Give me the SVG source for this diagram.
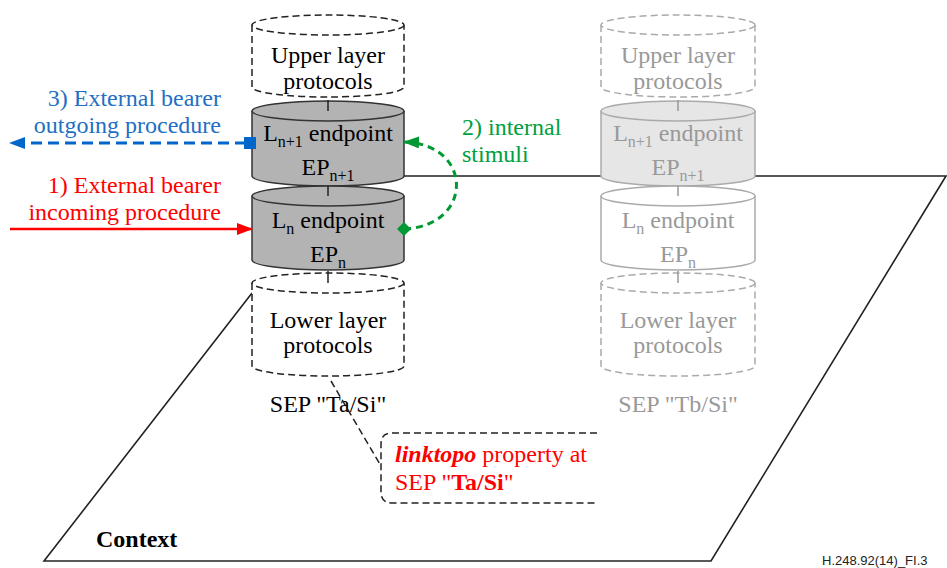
<svg xmlns="http://www.w3.org/2000/svg" width="947" height="568" viewBox="0 0 947 568" font-family="'Liberation Serif', 'Times New Roman', 'DejaVu Serif', serif">
  <style>
    text { font-family: 'Liberation Serif', 'Times New Roman', 'DejaVu Serif', serif; font-size: 24px; }
    .c { text-anchor: middle; }
    .r { text-anchor: end; }
    .sub { font-size: 16px; }
    .dash { fill: #fff; stroke: #222; stroke-width: 1.5; stroke-dasharray: 7 4; }
    .dashg { fill: #fff; stroke: #aaa; stroke-width: 1.5; stroke-dasharray: 7 4; }
    .ep { fill: #b3b3b3; stroke: #333; stroke-width: 1.5; }
    .epl { fill: #e6e6e6; stroke: #aaa; stroke-width: 1.5; }
    .epw { fill: #fff; stroke: #aaa; stroke-width: 1.5; }
    .tick { stroke: #222; stroke-width: 1.5; }
    .tickg { stroke: #999; stroke-width: 1.5; }
    .grey { fill: #999; }
    .fig { font-family: 'Liberation Sans', Arial, sans-serif; font-size: 13px; }
  </style>
  <defs>
    <marker id="arrBlue" markerWidth="16" markerHeight="12" refX="15" refY="6" orient="auto" markerUnits="userSpaceOnUse">
      <path d="M0,0 L16,6 L0,12 Z" fill="#0066cc"/>
    </marker>
    <marker id="arrRed" markerWidth="16" markerHeight="12" refX="15" refY="6" orient="auto" markerUnits="userSpaceOnUse">
      <path d="M0,0 L16,6 L0,12 Z" fill="#ff0000"/>
    </marker>
    <marker id="arrGreen" markerWidth="16" markerHeight="12" refX="15" refY="6" orient="auto" markerUnits="userSpaceOnUse">
      <path d="M0,0 L16,6 L0,12 Z" fill="#009933"/>
    </marker>
  </defs>

  <!-- context plane -->
  <g id="context">
    <path d="M252,293 L44,561 L711,561 L946,176 L404,176" fill="none" stroke="#222" stroke-width="1.6"/>
    <text x="96" y="547" font-weight="bold">Context</text>
  </g>

  <!-- termination Ta/Si stack -->
  <g id="upper-a">
    <path class="dash" d="M252,25 V87 A76,10 0 0 0 404,87 V25"/>
    <ellipse class="dash" cx="328" cy="25" rx="76" ry="10"/>
    <text class="c" x="328" y="63">Upper layer</text>
    <text class="c" x="328" y="89">protocols</text>
  </g>
  <g id="epn1-a">
    <path class="ep" d="M252,111 V176 A76,10 0 0 0 404,176 V111"/>
    <ellipse class="ep" cx="328" cy="111" rx="76" ry="10"/>
    <line class="tick" x1="328" y1="100" x2="328" y2="111"/>
    <text class="c" x="328" y="141">L<tspan class="sub" dy="6">n+1</tspan><tspan dy="-6"> endpoint</tspan></text>
    <text class="c" x="328" y="175">EP<tspan class="sub" dy="6">n+1</tspan></text>
  </g>
  <g id="epn-a">
    <path class="ep" d="M252,196 V260 A76,10 0 0 0 404,260 V196"/>
    <ellipse class="ep" cx="328" cy="196" rx="76" ry="10"/>
    <line class="tick" x1="328" y1="186" x2="328" y2="196"/>
    <text class="c" x="328" y="228">L<tspan class="sub" dy="6">n</tspan><tspan dy="-6"> endpoint</tspan></text>
    <text class="c" x="328" y="262">EP<tspan class="sub" dy="6">n</tspan></text>
  </g>
  <g id="lower-a">
    <path class="dash" d="M252,283 V366 A76,10 0 0 0 404,366 V283"/>
    <ellipse class="dash" cx="328" cy="283" rx="76" ry="10"/>
    <line class="tick" x1="328" y1="271" x2="328" y2="283"/>
    <text class="c" x="328" y="328">Lower layer</text>
    <text class="c" x="328" y="353">protocols</text>
    <text class="c" x="328" y="412">SEP "Ta/Si"</text>
  </g>

  <!-- termination Tb/Si stack -->
  <g id="upper-b">
    <path class="dashg" d="M601,25 V87 A77,10 0 0 0 755,87 V25"/>
    <ellipse class="dashg" cx="678" cy="25" rx="77" ry="10"/>
    <text class="c grey" x="678" y="63">Upper layer</text>
    <text class="c grey" x="678" y="89">protocols</text>
  </g>
  <g id="epn1-b">
    <path class="epl" d="M601,111 V176 A77,10 0 0 0 755,176 V111"/>
    <ellipse class="epl" cx="678" cy="111" rx="77" ry="10"/>
    <line class="tickg" x1="678" y1="100" x2="678" y2="111"/>
    <text class="c grey" x="678" y="141">L<tspan class="sub" dy="6">n+1</tspan><tspan dy="-6"> endpoint</tspan></text>
    <text class="c grey" x="678" y="175">EP<tspan class="sub" dy="6">n+1</tspan></text>
  </g>
  <g id="epn-b">
    <path class="epw" d="M601,196 V260 A77,10 0 0 0 755,260 V196"/>
    <ellipse class="epw" cx="678" cy="196" rx="77" ry="10"/>
    <line class="tickg" x1="678" y1="186" x2="678" y2="196"/>
    <text class="c grey" x="678" y="228">L<tspan class="sub" dy="6">n</tspan><tspan dy="-6"> endpoint</tspan></text>
    <text class="c grey" x="678" y="262">EP<tspan class="sub" dy="6">n</tspan></text>
  </g>
  <g id="lower-b">
    <path class="dashg" d="M601,283 V366 A77,10 0 0 0 755,366 V283"/>
    <ellipse class="dashg" cx="678" cy="283" rx="77" ry="10"/>
    <line class="tickg" x1="678" y1="271" x2="678" y2="283"/>
    <text class="c grey" x="678" y="328">Lower layer</text>
    <text class="c grey" x="678" y="353">protocols</text>
    <text class="c grey" x="678" y="412">SEP "Tb/Si"</text>
  </g>

  <!-- procedures and stimuli -->
  <g id="connectors">
    <line x1="246" y1="143" x2="10" y2="143" stroke="#0066cc" stroke-width="3" stroke-dasharray="11 6" marker-end="url(#arrBlue)"/>
    <rect x="244" y="137" width="12" height="12" fill="#0066cc"/>
    <line x1="10" y1="229" x2="252" y2="229" stroke="#ff0000" stroke-width="2.5" marker-end="url(#arrRed)"/>
    <path d="M404,229 C474,226 474,144 404,142" fill="none" stroke="#009933" stroke-width="3" stroke-dasharray="7 5" marker-end="url(#arrGreen)"/>
    <path d="M404,222 L411,229 L404,236 L397,229 Z" fill="#009933"/>
  </g>

  <g id="labels">
    <text class="r" x="221" y="106" fill="#1f6fc4">3) External bearer</text>
    <text class="r" x="221" y="133" fill="#1f6fc4">outgoing procedure</text>
    <text class="r" x="221" y="193" fill="#ff0000">1) External bearer</text>
    <text class="r" x="221" y="220" fill="#ff0000">incoming procedure</text>
    <text x="462" y="135" fill="#00a040">2) internal</text>
    <text x="462" y="162" fill="#00a040">stimuli</text>
  </g>

  <!-- linktopo callout -->
  <g id="callout">
    <path d="M597,433 H392 Q381,433 381,444 V492 Q381,503 392,503 H597" fill="none" stroke="#222" stroke-width="1.5" stroke-dasharray="7 4"/>
    <line x1="331" y1="381" x2="381" y2="466" stroke="#222" stroke-width="1.5" stroke-dasharray="7 4"/>
    <text x="395" y="462" fill="#ff0000"><tspan font-weight="bold" font-style="italic">linktopo</tspan> property at</text>
    <text x="395" y="490" fill="#ff0000">SEP "<tspan font-weight="bold">Ta/Si</tspan>"</text>
  </g>

  <text class="fig" x="822" y="565" fill="#222">H.248.92(14)_FI.3</text>
</svg>
